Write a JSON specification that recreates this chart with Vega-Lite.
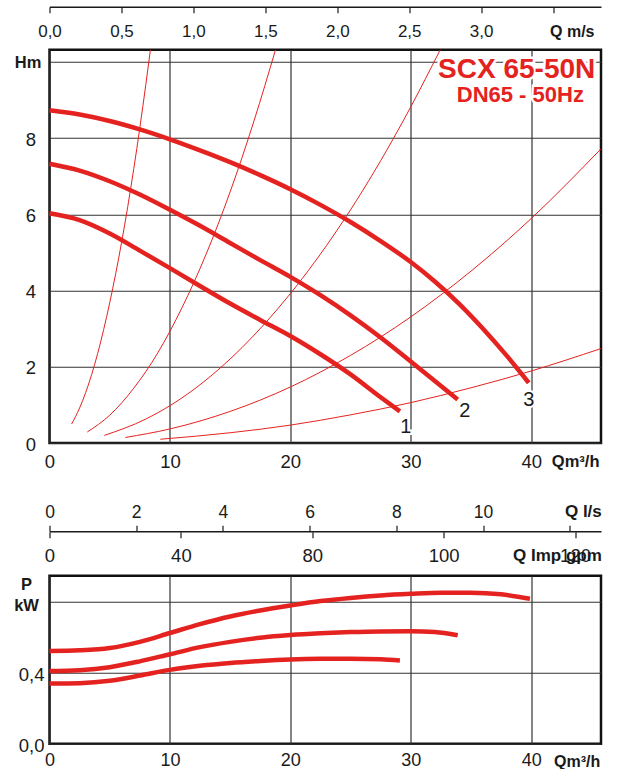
{
  "$schema": "https://vega.github.io/schema/vega-lite/v6.json",
  "background": "white",
  "padding": {"left": 11.5, "top": 5.75, "right": 5, "bottom": 0},
  "spacing": 0,
  "bounds": "flush",
  "config": {
    "font": "Liberation Sans",
    "view": {"stroke": null},
    "axis": {"labelFont": "Liberation Sans", "titleFont": "Liberation Sans", "labelColor": "#1a1a1a", "titleColor": "#1a1a1a", "labelFlush": false, "labelOverlap": false, "labelBound": false}
  },
  "datasets": {
    "sys": [
      {"c": "a", "q": 1.84, "h": 0.5}, {"c": "a", "q": 2.5, "h": 0.92}, {"c": "a", "q": 3, "h": 1.32}, {"c": "a", "q": 4, "h": 2.35}, {"c": "a", "q": 5, "h": 3.68}, {"c": "a", "q": 6, "h": 5.29}, {"c": "a", "q": 7, "h": 7.2}, {"c": "a", "q": 7.5, "h": 8.27}, {"c": "a", "q": 8, "h": 9.41}, {"c": "a", "q": 8.38, "h": 10.32},
      {"c": "b", "q": 3.14, "h": 0.29}, {"c": "b", "q": 5, "h": 0.73}, {"c": "b", "q": 7, "h": 1.44}, {"c": "b", "q": 9, "h": 2.37}, {"c": "b", "q": 11, "h": 3.55}, {"c": "b", "q": 13, "h": 4.95}, {"c": "b", "q": 15, "h": 6.59}, {"c": "b", "q": 17, "h": 8.47}, {"c": "b", "q": 18.77, "h": 10.32},
      {"c": "c", "q": 4.55, "h": 0.2}, {"c": "c", "q": 8, "h": 0.63}, {"c": "c", "q": 12, "h": 1.41}, {"c": "c", "q": 16, "h": 2.51}, {"c": "c", "q": 20, "h": 3.92}, {"c": "c", "q": 24, "h": 5.64}, {"c": "c", "q": 28, "h": 7.68}, {"c": "c", "q": 30, "h": 8.82}, {"c": "c", "q": 32.45, "h": 10.32},
      {"c": "d", "q": 6.3, "h": 0.146}, {"c": "d", "q": 10, "h": 0.37}, {"c": "d", "q": 15, "h": 0.83}, {"c": "d", "q": 20, "h": 1.47}, {"c": "d", "q": 25, "h": 2.3}, {"c": "d", "q": 30, "h": 3.31}, {"c": "d", "q": 35, "h": 4.51}, {"c": "d", "q": 40, "h": 5.89}, {"c": "d", "q": 45.8, "h": 7.72},
      {"c": "e", "q": 9.2, "h": 0.1}, {"c": "e", "q": 15, "h": 0.27}, {"c": "e", "q": 20, "h": 0.47}, {"c": "e", "q": 25, "h": 0.74}, {"c": "e", "q": 30, "h": 1.06}, {"c": "e", "q": 35, "h": 1.45}, {"c": "e", "q": 40, "h": 1.89}, {"c": "e", "q": 45.8, "h": 2.48}
    ],
    "pump": [
      {"c": "3", "q": 0, "h": 8.73}, {"c": "3", "q": 2.5, "h": 8.62}, {"c": "3", "q": 5, "h": 8.45}, {"c": "3", "q": 7.5, "h": 8.23}, {"c": "3", "q": 10, "h": 7.97}, {"c": "3", "q": 12.5, "h": 7.68}, {"c": "3", "q": 15, "h": 7.37}, {"c": "3", "q": 17.5, "h": 7.03}, {"c": "3", "q": 20, "h": 6.66}, {"c": "3", "q": 22.5, "h": 6.25}, {"c": "3", "q": 25, "h": 5.8}, {"c": "3", "q": 27.5, "h": 5.3}, {"c": "3", "q": 30, "h": 4.75}, {"c": "3", "q": 32, "h": 4.24}, {"c": "3", "q": 34, "h": 3.66}, {"c": "3", "q": 36, "h": 3.0}, {"c": "3", "q": 38, "h": 2.28}, {"c": "3", "q": 39.8, "h": 1.58},
      {"c": "2", "q": 0, "h": 7.33}, {"c": "2", "q": 2.5, "h": 7.15}, {"c": "2", "q": 5, "h": 6.87}, {"c": "2", "q": 7.5, "h": 6.52}, {"c": "2", "q": 10, "h": 6.12}, {"c": "2", "q": 12.5, "h": 5.7}, {"c": "2", "q": 15, "h": 5.25}, {"c": "2", "q": 17.5, "h": 4.8}, {"c": "2", "q": 20, "h": 4.36}, {"c": "2", "q": 22.5, "h": 3.88}, {"c": "2", "q": 25, "h": 3.35}, {"c": "2", "q": 27.5, "h": 2.77}, {"c": "2", "q": 30, "h": 2.14}, {"c": "2", "q": 32, "h": 1.63}, {"c": "2", "q": 33.9, "h": 1.14},
      {"c": "1", "q": 0, "h": 6.03}, {"c": "1", "q": 2.5, "h": 5.85}, {"c": "1", "q": 5, "h": 5.5}, {"c": "1", "q": 7.5, "h": 5.05}, {"c": "1", "q": 10, "h": 4.59}, {"c": "1", "q": 12.5, "h": 4.12}, {"c": "1", "q": 15, "h": 3.66}, {"c": "1", "q": 17.5, "h": 3.23}, {"c": "1", "q": 20, "h": 2.81}, {"c": "1", "q": 22.5, "h": 2.33}, {"c": "1", "q": 25, "h": 1.8}, {"c": "1", "q": 27.5, "h": 1.2}, {"c": "1", "q": 29.1, "h": 0.83}
    ],
    "labels": [
      {"t": "1", "q": 29.6, "h": 0.42}, {"t": "2", "q": 34.5, "h": 0.84}, {"t": "3", "q": 39.8, "h": 1.14}
    ],
    "title": [
      {"t": "SCX 65-50N", "q": 38.8, "h": 9.78}, {"t": "DN65 - 50Hz", "q": 39.1, "h": 9.13}
    ],
    "power": [
      {"c": "3", "q": 0, "p": 0.523}, {"c": "3", "q": 2.5, "p": 0.527}, {"c": "3", "q": 5, "p": 0.54}, {"c": "3", "q": 7.5, "p": 0.575}, {"c": "3", "q": 10, "p": 0.625}, {"c": "3", "q": 12.5, "p": 0.675}, {"c": "3", "q": 15, "p": 0.718}, {"c": "3", "q": 17.5, "p": 0.752}, {"c": "3", "q": 20, "p": 0.78}, {"c": "3", "q": 22.5, "p": 0.805}, {"c": "3", "q": 25, "p": 0.823}, {"c": "3", "q": 27.5, "p": 0.837}, {"c": "3", "q": 30, "p": 0.846}, {"c": "3", "q": 32.5, "p": 0.852}, {"c": "3", "q": 35, "p": 0.852}, {"c": "3", "q": 37.5, "p": 0.843}, {"c": "3", "q": 39.9, "p": 0.818},
      {"c": "2", "q": 0, "p": 0.41}, {"c": "2", "q": 2.5, "p": 0.415}, {"c": "2", "q": 5, "p": 0.432}, {"c": "2", "q": 7.5, "p": 0.465}, {"c": "2", "q": 10, "p": 0.505}, {"c": "2", "q": 12.5, "p": 0.545}, {"c": "2", "q": 15, "p": 0.575}, {"c": "2", "q": 17.5, "p": 0.598}, {"c": "2", "q": 20, "p": 0.613}, {"c": "2", "q": 22.5, "p": 0.623}, {"c": "2", "q": 25, "p": 0.63}, {"c": "2", "q": 27.5, "p": 0.634}, {"c": "2", "q": 30, "p": 0.635}, {"c": "2", "q": 32, "p": 0.63}, {"c": "2", "q": 33.9, "p": 0.612},
      {"c": "1", "q": 0, "p": 0.34}, {"c": "1", "q": 2.5, "p": 0.342}, {"c": "1", "q": 5, "p": 0.355}, {"c": "1", "q": 7.5, "p": 0.385}, {"c": "1", "q": 10, "p": 0.417}, {"c": "1", "q": 12.5, "p": 0.44}, {"c": "1", "q": 15, "p": 0.456}, {"c": "1", "q": 17.5, "p": 0.467}, {"c": "1", "q": 20, "p": 0.475}, {"c": "1", "q": 22.5, "p": 0.479}, {"c": "1", "q": 25, "p": 0.48}, {"c": "1", "q": 27.5, "p": 0.477}, {"c": "1", "q": 29.1, "p": 0.47}
    ]
  },
  "vconcat": [
    {
      "width": 551.5,
      "height": 43,
      "data": {"values": [{"v": 0, "y": 0}]},
      "mark": {"type": "point", "opacity": 0},
      "encoding": {
        "x": {
          "field": "v", "type": "quantitative",
          "scale": {"domain": [0, 3.833], "nice": false, "zero": false},
          "axis": {
            "orient": "bottom", "offset": -43,
            "values": [0, 0.5, 1, 1.5, 2, 2.5, 3, 3.5],
            "labelExpr": "datum.value == 3.5 ? '' : replace(format(datum.value, '.1f'), '.', ',')",
            "grid": false, "domain": true, "domainColor": "#1a1a1a", "domainWidth": 1.5,
            "ticks": true, "tickSize": 6, "tickColor": "#1a1a1a", "tickWidth": 1.2,
            "labelFontSize": 17, "labelPadding": 11.2,
            "title": "Q m/s", "titleFontSize": 16, "titleFontWeight": "bold",
            "titleAlign": "right", "titleBaseline": "alphabetic", "titleX": 544.5, "titleY": 29.7
          }
        },
        "y": {"field": "y", "type": "quantitative", "scale": {"domain": [0, 1]}, "axis": null}
      }
    },
    {
      "width": 551.5,
      "height": 393.3,
      "view": {"stroke": "#111111", "strokeWidth": 2.5},
      "encoding": {
        "x": {
          "field": "q", "type": "quantitative",
          "scale": {"domain": [0, 45.8], "nice": false, "zero": false},
          "axis": {
            "values": [0, 10, 20, 30, 40],
            "grid": true, "gridColor": "#333333", "gridWidth": 1.2,
            "ticks": false, "tickSize": 0, "domain": false,
            "labelFontSize": 18.5, "labelPadding": 9,
            "title": "Qm³/h", "titleFontSize": 16.5, "titleFontWeight": "bold",
            "titleAlign": "right", "titleBaseline": "alphabetic", "titleX": 549.5, "titleY": 23.4
          }
        },
        "y": {
          "field": "h", "type": "quantitative",
          "scale": {"domain": [0, 10.32], "nice": false, "zero": false},
          "axis": {
            "values": [0, 2, 4, 6, 8, 10],
            "labelExpr": "datum.value == 10 ? '' : datum.label",
            "grid": true, "gridColor": "#333333", "gridWidth": 1.2,
            "ticks": false, "tickSize": 0, "domain": false,
            "labelFontSize": 18.5, "labelAlign": "center", "labelBaseline": "middle", "labelPadding": 19, "labelOffset": 1,
            "title": "Hm", "titleFontSize": 16.5, "titleFontWeight": "bold", "titleAngle": 0,
            "titleAlign": "center", "titleBaseline": "middle", "titleX": -21.9, "titleY": 12.7
          }
        }
      },
      "layer": [
        {
          "data": {"name": "sys"},
          "mark": {"type": "line", "color": "#e42320", "strokeWidth": 1, "interpolate": "monotone"},
          "encoding": {"detail": {"field": "c"}}
        },
        {
          "data": {"name": "pump"},
          "mark": {"type": "line", "color": "#e42320", "strokeWidth": 4.5, "strokeCap": "butt", "interpolate": "monotone"},
          "encoding": {"detail": {"field": "c"}}
        },
        {
          "data": {"name": "labels"},
          "mark": {"type": "text", "fontSize": 20, "align": "center", "baseline": "middle", "fill": "white", "stroke": "white", "strokeWidth": 4},
          "encoding": {"text": {"field": "t"}}
        },
        {
          "data": {"name": "labels"},
          "mark": {"type": "text", "fontSize": 20, "align": "center", "baseline": "middle", "fill": "#1a1a1a"},
          "encoding": {"text": {"field": "t"}}
        },
        {
          "data": {"name": "title"},
          "transform": [{"filter": "datum.t == 'SCX 65-50N'"}],
          "mark": {"type": "text", "fontSize": 28, "fontWeight": "bold", "align": "center", "baseline": "middle", "fill": "white", "stroke": "white", "strokeWidth": 5},
          "encoding": {"text": {"field": "t"}}
        },
        {
          "data": {"name": "title"},
          "transform": [{"filter": "datum.t == 'DN65 - 50Hz'"}],
          "mark": {"type": "text", "fontSize": 22, "fontWeight": "bold", "align": "center", "baseline": "middle", "fill": "white", "stroke": "white", "strokeWidth": 5},
          "encoding": {"text": {"field": "t"}}
        },
        {
          "data": {"name": "title"},
          "transform": [{"filter": "datum.t == 'SCX 65-50N'"}],
          "mark": {"type": "text", "fontSize": 28, "fontWeight": "bold", "align": "center", "baseline": "middle", "fill": "#e42320"},
          "encoding": {"text": {"field": "t"}}
        },
        {
          "data": {"name": "title"},
          "transform": [{"filter": "datum.t == 'DN65 - 50Hz'"}],
          "mark": {"type": "text", "fontSize": 22, "fontWeight": "bold", "align": "center", "baseline": "middle", "fill": "#e42320"},
          "encoding": {"text": {"field": "t"}}
        }
      ]
    },
    {
      "width": 551.5,
      "height": 87.4,
      "data": {"values": [{"ls": 0, "y": 0}]},
      "mark": {"type": "point", "opacity": 0},
      "encoding": {
        "x": {
          "field": "ls", "type": "quantitative",
          "scale": {"domain": [0, 12.722], "nice": false, "zero": false},
          "axis": {
            "orient": "top", "offset": -87.4,
            "values": [0, 2, 4, 6, 8, 10, 12],
            "labelExpr": "datum.value == 12 ? '' : datum.label",
            "grid": false, "domain": true, "domainColor": "#1a1a1a", "domainWidth": 1.5,
            "ticks": true, "tickSize": 6, "tickColor": "#1a1a1a", "tickWidth": 1.2,
            "labelFontSize": 17.5, "labelPadding": 3.4,
            "title": "Q l/s", "titleFontSize": 17, "titleFontWeight": "bold",
            "titleAlign": "right", "titleBaseline": "alphabetic", "titleX": 551.8, "titleY": -14.7
          }
        },
        "y": {"field": "y", "type": "quantitative", "scale": {"domain": [0, 1]}, "axis": null}
      }
    },
    {
      "width": 551.5,
      "height": 44,
      "data": {"values": [{"gpm": 0, "y": 0}]},
      "mark": {"type": "point", "opacity": 0},
      "encoding": {
        "x": {
          "field": "gpm", "type": "quantitative",
          "scale": {"domain": [0, 167.9], "nice": false, "zero": false},
          "axis": {
            "orient": "bottom", "offset": -44,
            "values": [0, 40, 80, 120, 160],
            "labelExpr": "datum.value == 120 ? '100' : datum.value == 160 ? '120' : datum.label",
            "grid": false, "domain": false,
            "ticks": true, "tickSize": 6, "tickColor": "#1a1a1a", "tickWidth": 1.2,
            "labelFontSize": 18.5, "labelPadding": 9,
            "title": "Q Imp gpm", "titleFontSize": 17, "titleFontWeight": "bold",
            "titleAlign": "right", "titleBaseline": "alphabetic", "titleX": 551.8, "titleY": 28.3
          }
        },
        "y": {"field": "y", "type": "quantitative", "scale": {"domain": [0, 1]}, "axis": null}
      }
    },
    {
      "width": 551.5,
      "height": 168,
      "view": {"stroke": "#111111", "strokeWidth": 2.5},
      "data": {"name": "power"},
      "mark": {"type": "line", "color": "#e42320", "strokeWidth": 4.5, "strokeCap": "butt", "interpolate": "monotone"},
      "encoding": {
        "x": {
          "field": "q", "type": "quantitative",
          "scale": {"domain": [0, 45.8], "nice": false, "zero": false},
          "axis": {
            "values": [0, 10, 20, 30, 40],
            "grid": true, "gridColor": "#333333", "gridWidth": 1.2,
            "ticks": false, "tickSize": 0, "domain": false,
            "labelFontSize": 18, "labelPadding": 7.5,
            "title": "Qm³/h", "titleFontSize": 16, "titleFontWeight": "bold",
            "titleAlign": "right", "titleBaseline": "alphabetic", "titleX": 550.2, "titleY": 22.3
          }
        },
        "y": {
          "field": "p", "type": "quantitative",
          "scale": {"domain": [0, 0.948], "nice": false, "zero": false},
          "axis": {
            "values": [0, 0.4, 0.8],
            "labelExpr": "datum.value > 0.5 ? '' : replace(format(datum.value, '.1f'), '.', ',')",
            "grid": true, "gridColor": "#333333", "gridWidth": 1.2,
            "ticks": false, "tickSize": 0, "domain": false,
            "labelFontSize": 18.5, "labelAlign": "right", "labelBaseline": "middle", "labelPadding": 5.5, "labelOffset": 2,
            "title": ["P", "kW"], "titleFontSize": 16.5, "titleFontWeight": "bold", "titleAngle": 0,
            "titleAlign": "center", "titleBaseline": "top", "titleLineHeight": 20.5, "titleX": -23.5, "titleY": 1
          }
        },
        "detail": {"field": "c"}
      }
    }
  ]
}
